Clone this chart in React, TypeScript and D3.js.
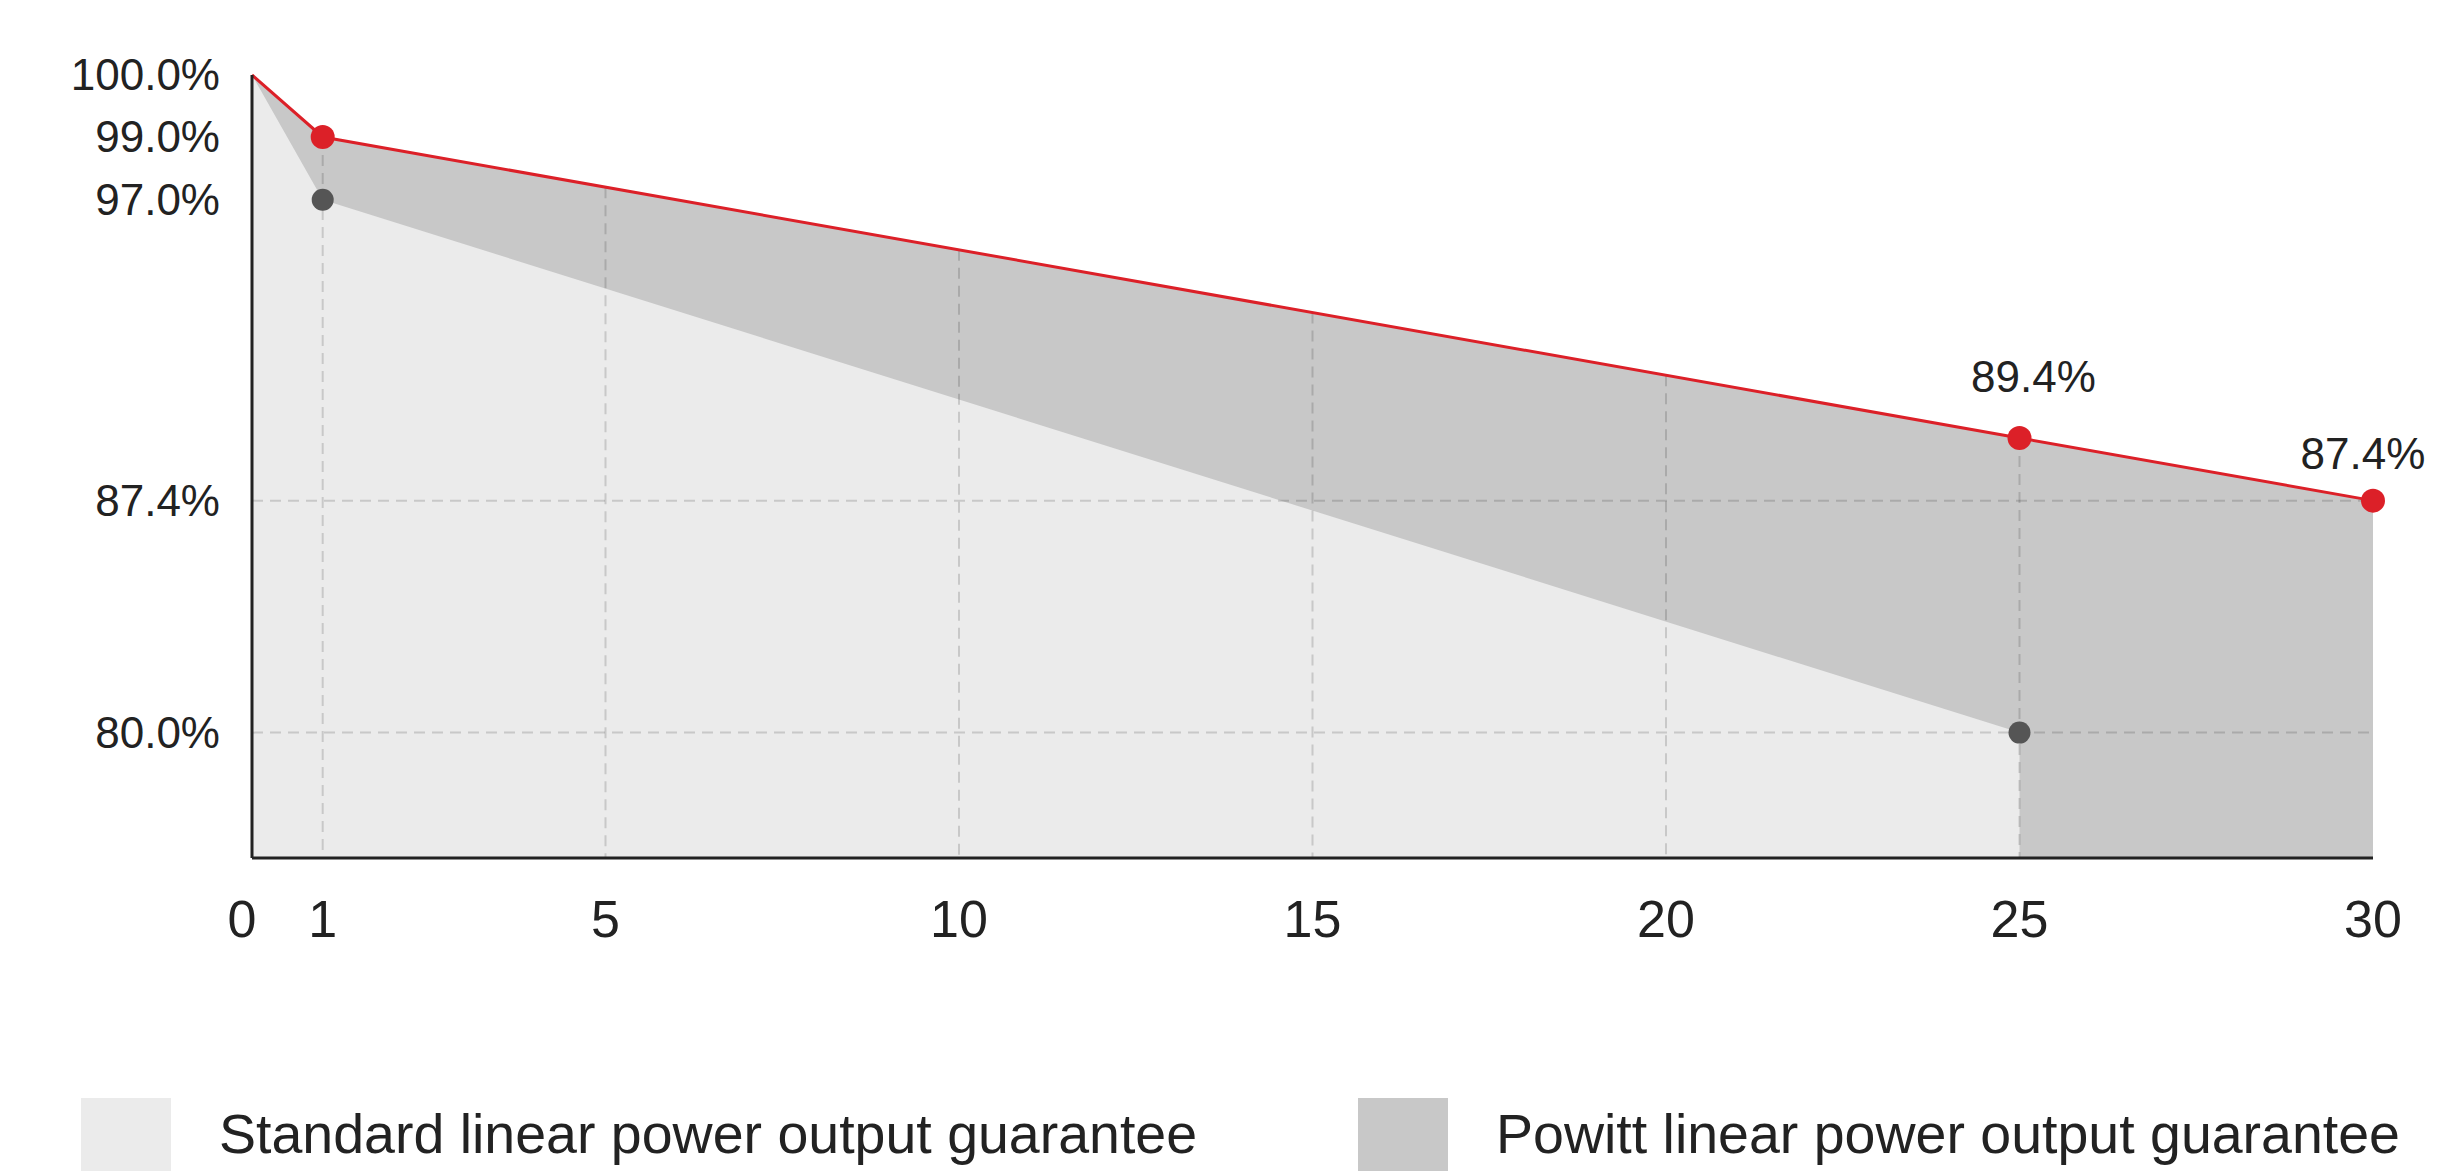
import React from 'react';
import * as d3 from 'd3';

// Powitt guarantee (red line) and standard guarantee (grey line)
const powittYears = [0, 1, 25, 30];
const powittValues = [100, 99, 89.4, 87.4];
const standardYears = [0, 1, 25];
const standardValues = [100, 97, 80];

const xTicks = [0, 1, 5, 10, 15, 20, 25, 30];
const yTicks = [100, 99, 97, 87.4, 80];
const gridYears = [1, 5, 10, 15, 20, 25];
const gridValues = [87.4, 80];

const powittDotYears = [1, 25, 30];
const standardDotYears = [1, 25];
const labelYears = [25, 30];

const legendItems = ['Standard linear power output guarantee', 'Powitt linear power output guarantee'];

const W = 2442;
const H = 1171;
const FONT = '"Liberation Sans", Arial, Helvetica, sans-serif';

export default function App() {
    const x = d3.scaleLinear().domain([0, 30]).range([252, 2373]);
    // the first year is drawn stretched, so the y scale has a break at 99%
    const y = d3.scaleLinear().domain([76, 99, 100]).range([858, 137, 75]);
    const base = y(76);

    const powitt = powittYears.map((yr, i) => ({ yr, v: powittValues[i] }));
    const standard = standardYears.map((yr, i) => ({ yr, v: standardValues[i] }));
    // value along each line at a given year (used for grid top and dots)
    const powittAt = d3.scaleLinear().domain(powittYears).range(powittValues);
    const standardAt = d3.scaleLinear().domain(standardYears).range(standardValues);

    const area = d3.area<{ yr: number; v: number }>()
        .x(d => x(d.yr))
        .y0(base)
        .y1(d => y(d.v));
    const line = d3.line<{ yr: number; v: number }>()
        .x(d => x(d.yr))
        .y(d => y(d.v));

    const legendColors = ['#ebebeb', '#c8c8c8'];
    const legendX = [81, 1358];

    return (
        <svg width={W} height={H} style={{ position: 'absolute', left: 0, top: 0, background: '#fff' }}
            fontFamily={FONT}>
            <path d={area(powitt) ?? ''} fill="#c8c8c8" />
            <path d={area(standard) ?? ''} fill="#ebebeb" />

            {/* dashed grid */}
            <g stroke="#000" strokeOpacity={0.15} strokeWidth={2} strokeDasharray="11,7">
                {gridYears.map(g => (
                    <line key={'gx' + g} x1={x(g)} x2={x(g)} y1={y(powittAt(g))} y2={base} />
                ))}
                {gridValues.map(g => (
                    <line key={'gy' + g} x1={x(0)} x2={x(30)} y1={y(g)} y2={y(g)} />
                ))}
            </g>

            <path d={line(powitt) ?? ''} fill="none" stroke="#dc2028" strokeWidth={3} />

            {/* axes */}
            <line x1={x(0)} x2={x(0)} y1={y(100)} y2={base} stroke="#222" strokeWidth={3} />
            <line x1={x(0)} x2={x(30)} y1={base} y2={base} stroke="#222" strokeWidth={3} />

            {standardDotYears.map(d => (
                <circle key={'s' + d} cx={x(d)} cy={y(standardAt(d))} r={11} fill="#555" />
            ))}
            {powittDotYears.map(d => (
                <circle key={'p' + d} cx={x(d)} cy={y(powittAt(d))} r={12} fill="#dc2028" />
            ))}

            {labelYears.map(d => (
                <text key={'l' + d} x={x(d) + (d === 30 ? -10 : 14)} y={y(powittAt(d)) - (d === 30 ? 32 : 46)}
                    textAnchor="middle" fontSize={44} fill="#222">
                    {d3.format('.1f')(powittAt(d)) + '%'}
                </text>
            ))}

            {yTicks.map(t => (
                <text key={'yt' + t} x={220} y={y(t)} dy="0.35em" textAnchor="end" fontSize={44} fill="#222">
                    {d3.format('.1f')(t) + '%'}
                </text>
            ))}
            {xTicks.map(t => (
                <text key={'xt' + t} x={x(t) - (t === 0 ? 10 : 0)} y={937} textAnchor="middle" fontSize={52} fill="#222">
                    {t}
                </text>
            ))}

            {legendItems.map((name, i) => (
                <g key={name}>
                    <rect x={legendX[i]} y={1098} width={90} height={80} fill={legendColors[i]} />
                    <text x={legendX[i] + 138} y={1153} fontSize={55.5} fill="#222">{name}</text>
                </g>
            ))}
        </svg>
    );
}
